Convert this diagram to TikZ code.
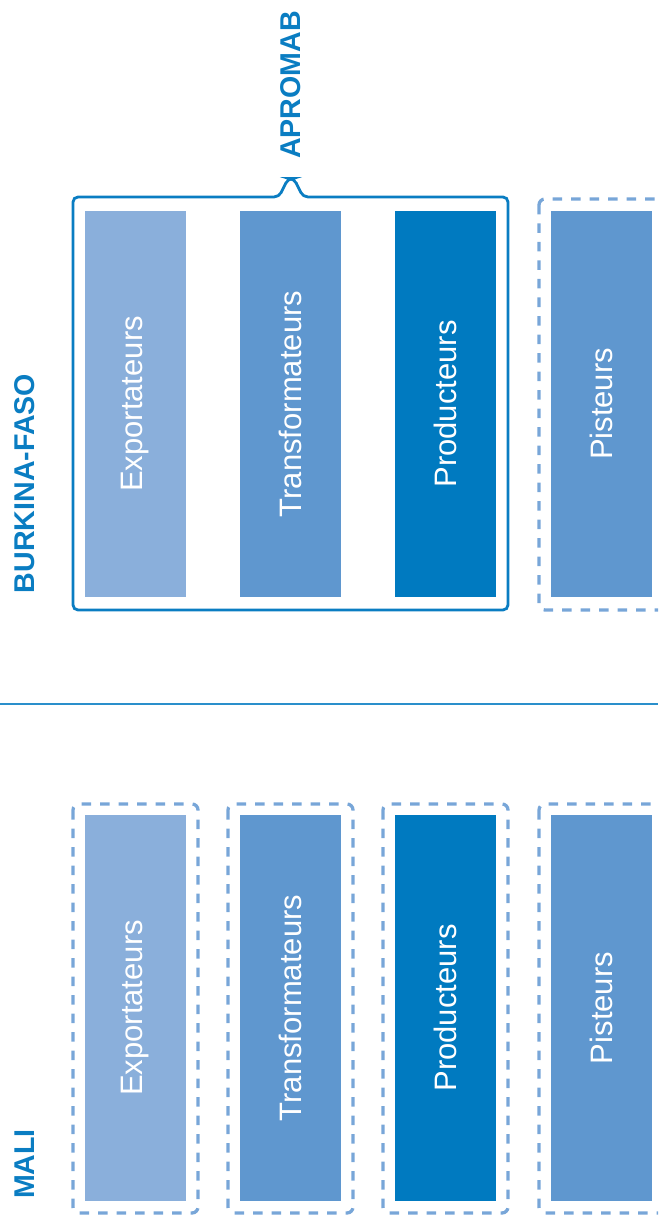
\documentclass[tikz,border=0pt]{standalone}
\usepackage{fontspec}
\setmainfont{Liberation Sans}
\definecolor{lightb}{HTML}{8AAFDB}
\definecolor{midb}{HTML}{5F97CF}
\definecolor{darkb}{HTML}{007AC0}
\definecolor{dashb}{HTML}{78A6D8}
\definecolor{frameb}{HTML}{0A7DC2}
\definecolor{lineb}{HTML}{2A8FCB}
\begin{document}
\begin{tikzpicture}[x=1pt,y=-1pt,
  bar/.style={rectangle,minimum width=386pt,minimum height=101pt,inner sep=0pt,rotate=90,
     text=white,font=\fontsize{31}{31}\selectfont},
  dbox/.style={draw=dashb,line width=3.3pt,dash pattern=on 9.5pt off 9pt,rounded corners=6pt},
  title/.style={text=frameb,font=\fontsize{28.6}{28.6}\selectfont\bfseries,rotate=90,inner sep=0pt}]
\useasboundingbox (0,0) rectangle (658,1222);
\clip (0,0) rectangle (658,1222);
% top (Burkina-Faso)
\node[bar,fill=lightb] (bex) at (135.5,404) {Exportateurs};
\node[bar,fill=midb] (btr) at (290.5,404) {Transformateurs};
\node[bar,fill=darkb] (bpr) at (445.5,404) {Producteurs};
\node[bar,fill=midb] (bpi) at (601,404) {Pisteurs};
\draw[frameb,line width=2.8pt,rounded corners=5pt]
  (73,404) -- (73,197) -- (279,197) -- (288,178.5) -- (294,178.5) -- (303,197) -- (508,197) -- (508,610) -- (73,610) -- cycle;
\draw[dbox] (539,199) rectangle (720,610);
% divider
\draw[lineb,line width=1.8pt] (0,704) -- (658,704);
% bottom (Mali)
\draw[dbox] (73,804) rectangle (198,1213);
\draw[dbox] (228,804) rectangle (353,1213);
\draw[dbox] (383,804) rectangle (508,1213);
\draw[dbox] (539,804) rectangle (720,1213);
\node[bar,fill=lightb] (mex) at (135.5,1008) {Exportateurs};
\node[bar,fill=midb] (mtr) at (290.5,1008) {Transformateurs};
\node[bar,fill=darkb] (mpr) at (445.5,1008) {Producteurs};
\node[bar,fill=midb] (mpi) at (601,1008) {Pisteurs};
% titles
\node[title] (tbf) at (25,483.5) {BURKINA-FASO};
\node[title] (tml) at (25,1164) {MALI};
\node[title] (tap) at (291,85) {APROMAB};
\end{tikzpicture}
\end{document}
